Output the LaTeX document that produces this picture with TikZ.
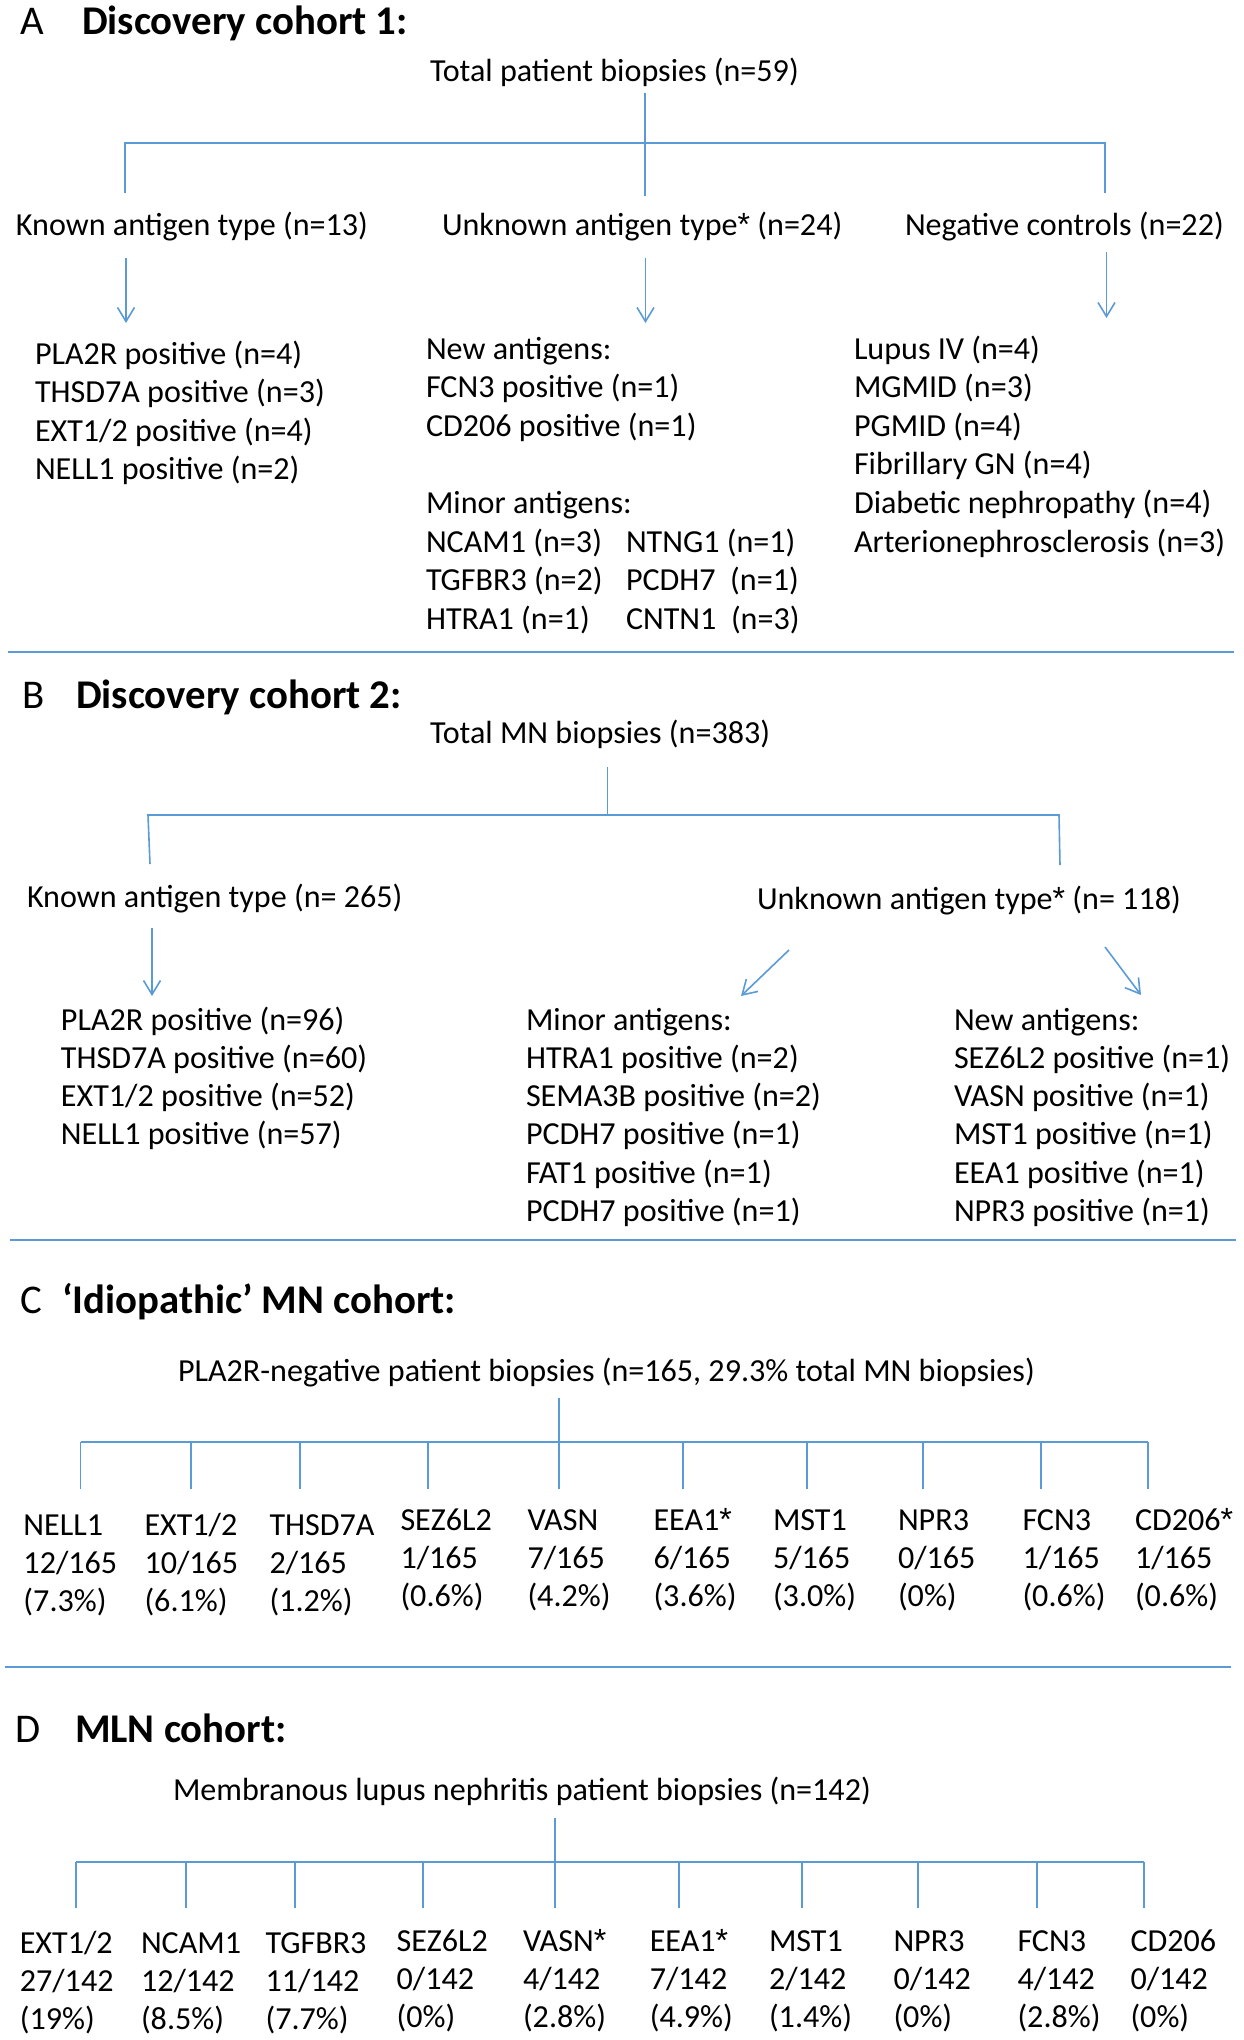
\documentclass[tikz,border=0pt]{standalone}
\usepackage{fontspec}
\setmainfont{Carlito}
\newfontfamily\astfont{Liberation Sans}
\usetikzlibrary{arrows.meta}
\definecolor{lineblue}{HTML}{5B9BD5}
\newcommand\myast{{\astfont *}}
\begin{document}
\begin{tikzpicture}[x=0.5pt,y=-0.5pt,
  txt/.style={anchor=base west, inner sep=0pt, outer sep=0pt, font=\fontsize{16.05}{19}\selectfont},
  ttl/.style={anchor=base west, inner sep=0pt, outer sep=0pt, font=\fontsize{20.4}{24}\selectfont\bfseries},
  lbl/.style={anchor=base west, inner sep=0pt, outer sep=0pt, font=\fontsize{20.4}{24}\selectfont},
  conn/.style={draw=lineblue, line width=0.8pt},
  arr/.style={conn, -{Straight Barb[length=7pt,width=8.5pt,line width=0.8pt]}},
  sep/.style={draw=lineblue, line width=1pt}]
\fill[white] (0,0) rectangle (1243,2040);
\useasboundingbox (0,0) rectangle (1243,2040);

% ---------------- A ----------------
\node[lbl] (Alab) at (20,34) {A};
\node[ttl] (Attl) at (82,34) {Discovery cohort 1:};
\node[txt] (Atot) at (430,81) {Total patient biopsies (n=59)};
\node[txt] (Akn) at (16,235) {Known antigen type (n=13)};
\node[txt] (Aun) at (442,235) {Unknown antigen type\myast{} (n=24)};
\node[txt] (Aneg) at (905,235) {Negative controls (n=22)};
\coordinate (Atop) at (645,93);
\coordinate (Amid) at (645,143);
\coordinate (Aunk) at (645,196);
\coordinate (AL) at (125,143);
\coordinate (ALb) at (125,193);
\coordinate (AR) at (1105,143);
\coordinate (ARb) at (1105,193);
\draw[conn] (Atop) -- (Aunk);
\draw[conn] (ALb) -- (AL) -- (AR) -- (ARb);
\coordinate (Aa1s) at (126,258); \coordinate (Aa1e) at (126,323);
\coordinate (Aa2s) at (645.5,258); \coordinate (Aa2e) at (645.5,323);
\coordinate (Aa3s) at (1106.5,252); \coordinate (Aa3e) at (1106.5,318);
\draw[arr] (Aa1s) -- (Aa1e);
\draw[arr] (Aa2s) -- (Aa2e);
\draw[arr] (Aa3s) -- (Aa3e);
\foreach \t [count=\i] in {PLA2R positive (n=4), THSD7A positive (n=3), EXT1/2 positive (n=4), NELL1 positive (n=2)}
  \node[txt] (A1-\i) at ({35},{364+38.6*(\i-1)}) {\t};
\foreach \t [count=\i] in {New antigens:, FCN3 positive (n=1), CD206 positive (n=1), {}, Minor antigens:, NCAM1 (n=3), TGFBR3 (n=2), HTRA1 (n=1)}
  \node[txt] (A2-\i) at ({426},{359+38.6*(\i-1)}) {\t};
\foreach \t [count=\i] in {NTNG1 (n=1), PCDH7~ (n=1), CNTN1~ (n=3)}
  \node[txt] (A2b-\i) at ({626},{552+38.6*(\i-1)}) {\t};
\foreach \t [count=\i] in {Lupus IV (n=4), MGMID (n=3), PGMID (n=4), Fibrillary GN (n=4), Diabetic nephropathy (n=4), Arterionephrosclerosis (n=3)}
  \node[txt] (A3-\i) at ({854},{359+38.6*(\i-1)}) {\t};
\coordinate (SAl) at (8,652); \coordinate (SAr) at (1234,652);
\draw[sep] (SAl) -- (SAr);

% ---------------- B ----------------
\node[lbl] (Blab) at (22,708) {B};
\node[ttl] (Bttl) at (76,708) {Discovery cohort 2:};
\node[txt] (Btot) at (430,743) {Total MN biopsies (n=383)};
\node[txt] (Bkn) at (27,907) {Known antigen type (n= 265)};
\node[txt] (Bun) at (757,909) {Unknown antigen type\myast{} (n= 118)};
\coordinate (Btop) at (607.5,767);
\coordinate (Bmid) at (607.5,815);
\coordinate (BL) at (148,815);
\coordinate (BLb) at (150,864);
\coordinate (BR) at (1059,815);
\coordinate (BRb) at (1060,865);
\draw[conn] (Btop) -- (Bmid);
\draw[conn] (BLb) -- (BL) -- (BR) -- (BRb);
\coordinate (Ba1s) at (152,928); \coordinate (Ba1e) at (152,996);
\coordinate (Ba2s) at (789,950); \coordinate (Ba2e) at (741,996);
\coordinate (Ba3s) at (1105,947); \coordinate (Ba3e) at (1141,995);
\draw[arr] (Ba1s) -- (Ba1e);
\draw[arr] (Ba2s) -- (Ba2e);
\draw[arr] (Ba3s) -- (Ba3e);
\foreach \t [count=\i] in {PLA2R positive (n=96), THSD7A positive (n=60), EXT1/2 positive (n=52), NELL1 positive (n=57)}
  \node[txt] (B1-\i) at ({61},{1030+38.3*(\i-1)}) {\t};
\foreach \t [count=\i] in {Minor antigens:, HTRA1 positive (n=2), SEMA3B positive (n=2), PCDH7 positive (n=1), FAT1 positive (n=1), PCDH7 positive (n=1)}
  \node[txt] (B2-\i) at ({526},{1030+38.3*(\i-1)}) {\t};
\foreach \t [count=\i] in {New antigens:, SEZ6L2 positive (n=1), VASN positive (n=1), MST1 positive (n=1), EEA1 positive (n=1), NPR3 positive (n=1)}
  \node[txt] (B3-\i) at ({954},{1030+38.3*(\i-1)}) {\t};
\coordinate (SBl) at (10,1240); \coordinate (SBr) at (1236,1240);
\draw[sep] (SBl) -- (SBr);

% ---------------- C ----------------
\node[lbl] (Clab) at (20,1313) {C};
\node[ttl] (Cttl) at (62,1313) {‘Idiopathic’ MN cohort:};
\node[txt] (Ctot) at (178,1381) {PLA2R-negative patient biopsies (n=165, 29.3\% total MN biopsies)};
\coordinate (Ctop) at (559,1398);
\coordinate (CL) at (80.6,1442);
\coordinate (CR) at (1148,1442);
\draw[conn] (CL) -- (CR);
\draw[conn] (Ctop) -- (559,1489);
\foreach \x [count=\i] in {80.6,191,300,428,683,807,923,1041,1148}{
  \coordinate (Ct-\i) at (\x,1442);
  \coordinate (Cb-\i) at (\x,1489);
  \draw[conn] (Ct-\i) -- (Cb-\i);
}
\foreach \x/\a/\b/\c/\y [count=\i] in {
  23.5/NELL1/{12/165}/{(7.3\%)}/1535,
  144.5/{EXT1/2}/{10/165}/{(6.1\%)}/1535,
  269.5/THSD7A/{2/165}/{(1.2\%)}/1535,
  400.5/SEZ6L2/{1/165}/{(0.6\%)}/1530,
  527.5/VASN/{7/165}/{(4.2\%)}/1530,
  653.5/EEA1\myast/{6/165}/{(3.6\%)}/1530,
  773/MST1/{5/165}/{(3.0\%)}/1530,
  898/NPR3/{0/165}/{(0\%)}/1530,
  1022.5/FCN3/{1/165}/{(0.6\%)}/1530,
  1135/CD206\myast/{1/165}/{(0.6\%)}/1530}{
  \node[txt] (Cn-\i) at ({\x},{\y}) {\a};
  \node[txt] (Cf-\i) at ({\x},{\y+38}) {\b};
  \node[txt] (Cp-\i) at ({\x},{\y+76}) {\c};
}
\coordinate (SCl) at (5,1667); \coordinate (SCr) at (1231,1667);
\draw[sep] (SCl) -- (SCr);

% ---------------- D ----------------
\node[lbl] (Dlab) at (16,1742) {D};
\node[ttl] (Dttl) at (75,1742) {MLN cohort:};
\node[txt] (Dtot) at (173,1800) {Membranous lupus nephritis patient biopsies (n=142)};
\coordinate (Dtop) at (555,1818);
\coordinate (DL) at (76,1862);
\coordinate (DR) at (1144,1862);
\draw[conn] (DL) -- (DR);
\draw[conn] (Dtop) -- (555,1908);
\foreach \x [count=\i] in {76,186,295,423,679,802,918,1037,1144}{
  \coordinate (Dt-\i) at (\x,1862);
  \coordinate (Db-\i) at (\x,1908);
  \draw[conn] (Dt-\i) -- (Db-\i);
}
\foreach \x/\a/\b/\c/\y [count=\i] in {
  19.8/{EXT1/2}/{27/142}/{(19\%)}/1953,
  141/NCAM1/{12/142}/{(8.5\%)}/1953,
  265.6/TGFBR3/{11/142}/{(7.7\%)}/1953,
  396.6/SEZ6L2/{0/142}/{(0\%)}/1951,
  523/VASN\myast/{4/142}/{(2.8\%)}/1951,
  649.8/EEA1\myast/{7/142}/{(4.9\%)}/1951,
  769/MST1/{2/142}/{(1.4\%)}/1951,
  893.5/NPR3/{0/142}/{(0\%)}/1951,
  1017.5/FCN3/{4/142}/{(2.8\%)}/1951,
  1130.5/CD206/{0/142}/{(0\%)}/1951}{
  \node[txt] (Dn-\i) at ({\x},{\y}) {\a};
  \node[txt] (Df-\i) at ({\x},{\y+38}) {\b};
  \node[txt] (Dp-\i) at ({\x},{\y+76}) {\c};
}
\end{tikzpicture}
\end{document}
